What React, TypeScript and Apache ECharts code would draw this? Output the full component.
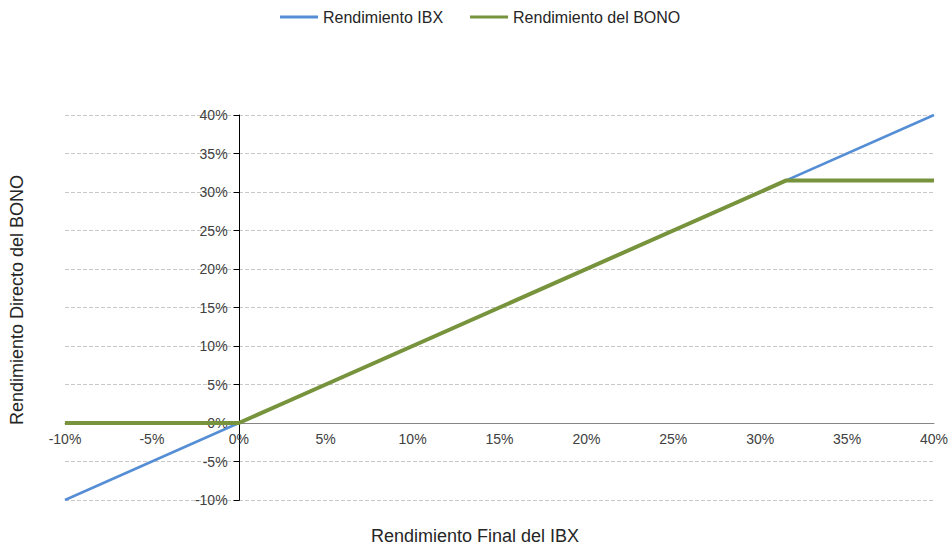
import React, { useEffect, useRef } from "react";
import * as echarts from "echarts";

const ibxX = [-10, 0, 10, 20, 30, 40];
const ibxY = [-10, 0, 10, 20, 30, 40];
const bonoX = [-10, 0, 2.5, 31.5, 40];
const bonoY = [0, 0, 2.5, 31.5, 31.5];
const seriesNames = ["Rendimiento IBX", "Rendimiento del BONO"];
const xAxisTitle = "Rendimiento Final del IBX";
const yAxisTitle = "Rendimiento Directo del BONO";

export default function App() {
  const ref = useRef<HTMLDivElement>(null);
  useEffect(() => {
    if (!ref.current) return;
    const chart = echarts.init(ref.current, undefined, { renderer: "svg" });
    const font = "'Liberation Sans', Arial, sans-serif";
    chart.setOption({
      animation: false,
      textStyle: { fontFamily: font },
      legend: {
        top: 9,
        left: 280,
        padding: 0,
        icon: "rect",
        itemWidth: 38,
        itemHeight: 3,
        itemGap: 27,
        textStyle: { fontSize: 16, color: "#262626", fontFamily: font },
        data: seriesNames,
      },
      grid: { left: 65, right: 13, top: 115, bottom: 45, containLabel: false },
      xAxis: {
        type: "value",
        min: -10,
        max: 40,
        interval: 5,
        position: "bottom",
        offset: -77,
        axisLine: { show: true, onZero: false, lineStyle: { color: "#868686", width: 1 } },
        axisTick: { show: false },
        splitLine: { show: false },
        axisLabel: {
          formatter: "{value}%",
          fontSize: 14,
          color: "#404040",
          margin: 9,
          fontFamily: font,
        },
      },
      yAxis: {
        type: "value",
        min: -10,
        max: 40,
        interval: 5,
        position: "left",
        offset: -174.6,
        axisLine: { show: true, onZero: false, lineStyle: { color: "#000", width: 1 } },
        axisTick: { show: true, inside: false, length: 6, lineStyle: { color: "#000" } },
        splitLine: { show: true, lineStyle: { color: "#c8c8c8", type: "dashed", width: 1 } },
        axisLabel: {
          formatter: "{value}%",
          fontSize: 14,
          color: "#404040",
          margin: 12,
          fontFamily: font,
        },
      },
      graphic: [
        {
          type: "text",
          x: 475,
          y: 536,
          style: {
            text: xAxisTitle,
            fontSize: 18,
            fill: "#262626",
            fontFamily: font,
            align: "center",
            verticalAlign: "middle",
          },
        },
        {
          type: "text",
          x: 17,
          y: 300,
          rotation: Math.PI / 2,
          style: {
            text: yAxisTitle,
            fontSize: 18,
            fill: "#262626",
            fontFamily: font,
            align: "center",
            verticalAlign: "middle",
          },
        },
      ],
      series: [
        {
          name: seriesNames[0],
          type: "line",
          symbol: "none",
          data: ibxX.map((x, i) => [x, ibxY[i]]),
          lineStyle: { color: "#558ED5", width: 2.5 },
          itemStyle: { color: "#558ED5" },
          z: 2,
        },
        {
          name: seriesNames[1],
          type: "line",
          symbol: "none",
          data: bonoX.map((x, i) => [x, bonoY[i]]),
          lineStyle: { color: "#77933C", width: 4 },
          itemStyle: { color: "#77933C" },
          z: 3,
        },
      ],
    });
    return () => chart.dispose();
  }, []);
  return (
    <div
      ref={ref}
      style={{ position: "absolute", left: 0, top: 0, width: 951, height: 545 }}
    />
  );
}
